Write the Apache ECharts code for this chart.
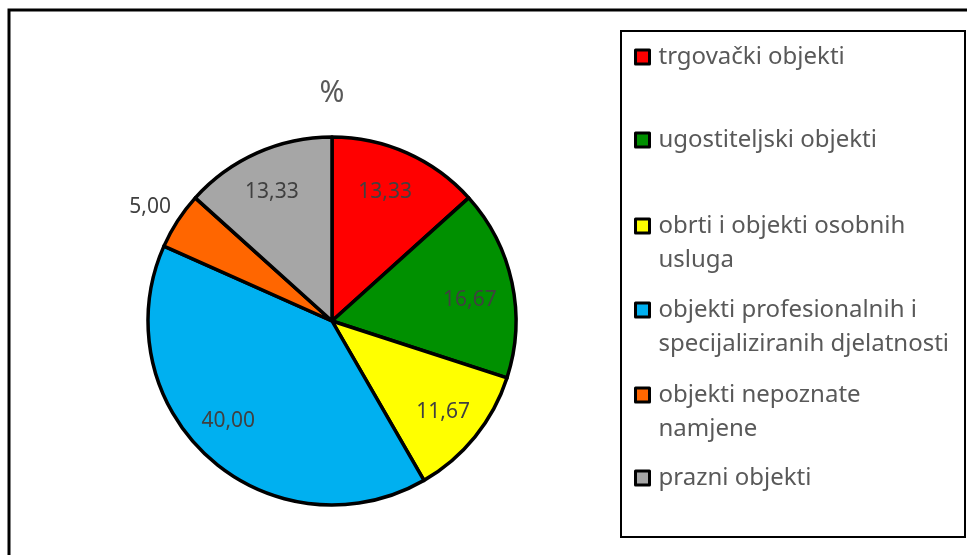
<!DOCTYPE html>
<html>
<head>
<meta charset="utf-8">
<script src="https://cdn.jsdelivr.net/npm/echarts@6/dist/echarts.min.js"></script>
<style>
html,body{margin:0;padding:0;background:#fff;}
#chart{width:967px;height:555px;}
</style>
</head>
<body>
<div id="chart"></div>
<script>
// Data
const categories = [
  'trgovački objekti',
  'ugostiteljski objekti',
  'obrti i objekti osobnih usluga',
  'objekti profesionalnih i specijaliziranih djelatnosti',
  'objekti nepoznate namjene',
  'prazni objekti'
];
const legendLines = [
  ['trgovački objekti'],
  ['ugostiteljski objekti'],
  ['obrti i objekti osobnih', 'usluga'],
  ['objekti profesionalnih i', 'specijaliziranih djelatnosti'],
  ['objekti nepoznate', 'namjene'],
  ['prazni objekti']
];
const values = [13.33, 16.67, 11.67, 40.00, 5.00, 13.33];
const title = '%';

// Styles
const colors = ['#FF0000', '#009000', '#FFFF00', '#00B0F0', '#FF6600', '#A6A6A6'];
const labelOffsets = [[-5, 2], [-2, 9], [0, 1], [-8, -6], [-62, -36], [-2, 2]];
const textColor = '#595959';
const labelColor = '#404040';
const font = 'Noto Sans';
const center = [332, 321];
const R = 184;
const legendCenters = [57, 140, 226, 310, 395, 478];
const lineH = 34;

const chart = echarts.init(document.getElementById('chart'), null, {renderer: 'canvas'});

const pieData = categories.map((c, i) => ({
  name: c, value: values[i], itemStyle: {color: colors[i]}
}));
const labelData = categories.map((c, i) => ({
  name: c, value: values[i], label: {offset: labelOffsets[i]}
}));

const legends = categories.map((c, i) => {
  const lines = legendLines[i];
  const twoLines = lines.length > 1;
  const txt = twoLines
    ? ['{t| }'].concat(lines.map(l => '{t|' + l + '}')).join('\n')
    : '{t|' + lines[0] + '}';
  return {
    data: [c],
    orient: 'vertical',
    left: 634,
    top: twoLines ? legendCenters[i] - 51 : legendCenters[i] - 17,
    icon: 'rect',
    itemWidth: 14,
    itemHeight: 14,
    selectedMode: false,
    padding: 0,
    itemStyle: {borderColor: '#000', borderWidth: 3},
    formatter: () => txt,
    textStyle: {
      fontFamily: font, fontSize: 24, color: textColor, lineHeight: lineH,
      rich: {t: {fontFamily: font, fontSize: 24, color: textColor, lineHeight: lineH, padding: [0, 0, 0, 4]}}
    }
  };
});

chart.setOption({
  animation: false,
  title: {
    text: title, left: 332, top: 78, textAlign: 'center', padding: 0,
    textStyle: {fontFamily: font, fontSize: 30, fontWeight: 'normal', color: textColor}
  },
  legend: legends,
  graphic: [
    {type: 'rect', shape: {x: 9, y: 10, width: 1000, height: 1000},
     style: {fill: 'none', stroke: '#000', lineWidth: 3}, silent: true, z: 100},
    {type: 'rect', shape: {x: 621, y: 31, width: 344, height: 506},
     style: {fill: 'none', stroke: '#000', lineWidth: 2}, silent: true, z: 100}
  ],
  series: [
    {
      type: 'pie',
      center: center,
      radius: [0, R],
      startAngle: 90,
      clockwise: true,
      avoidLabelOverlap: false,
      label: {show: false},
      labelLine: {show: false},
      itemStyle: {borderColor: '#000', borderWidth: 3.5},
      emphasis: {disabled: true},
      data: pieData
    },
    {
      type: 'pie',
      center: center,
      radius: [96, R],
      startAngle: 90,
      clockwise: true,
      silent: true,
      avoidLabelOverlap: false,
      itemStyle: {color: 'transparent'},
      label: {
        show: true, position: 'inside',
        formatter: p => p.value.toFixed(2).replace('.', ','),
        fontFamily: font, fontSize: 21, color: labelColor
      },
      labelLine: {show: false},
      emphasis: {disabled: true},
      data: labelData
    }
  ]
});
</script>
</body>
</html>
